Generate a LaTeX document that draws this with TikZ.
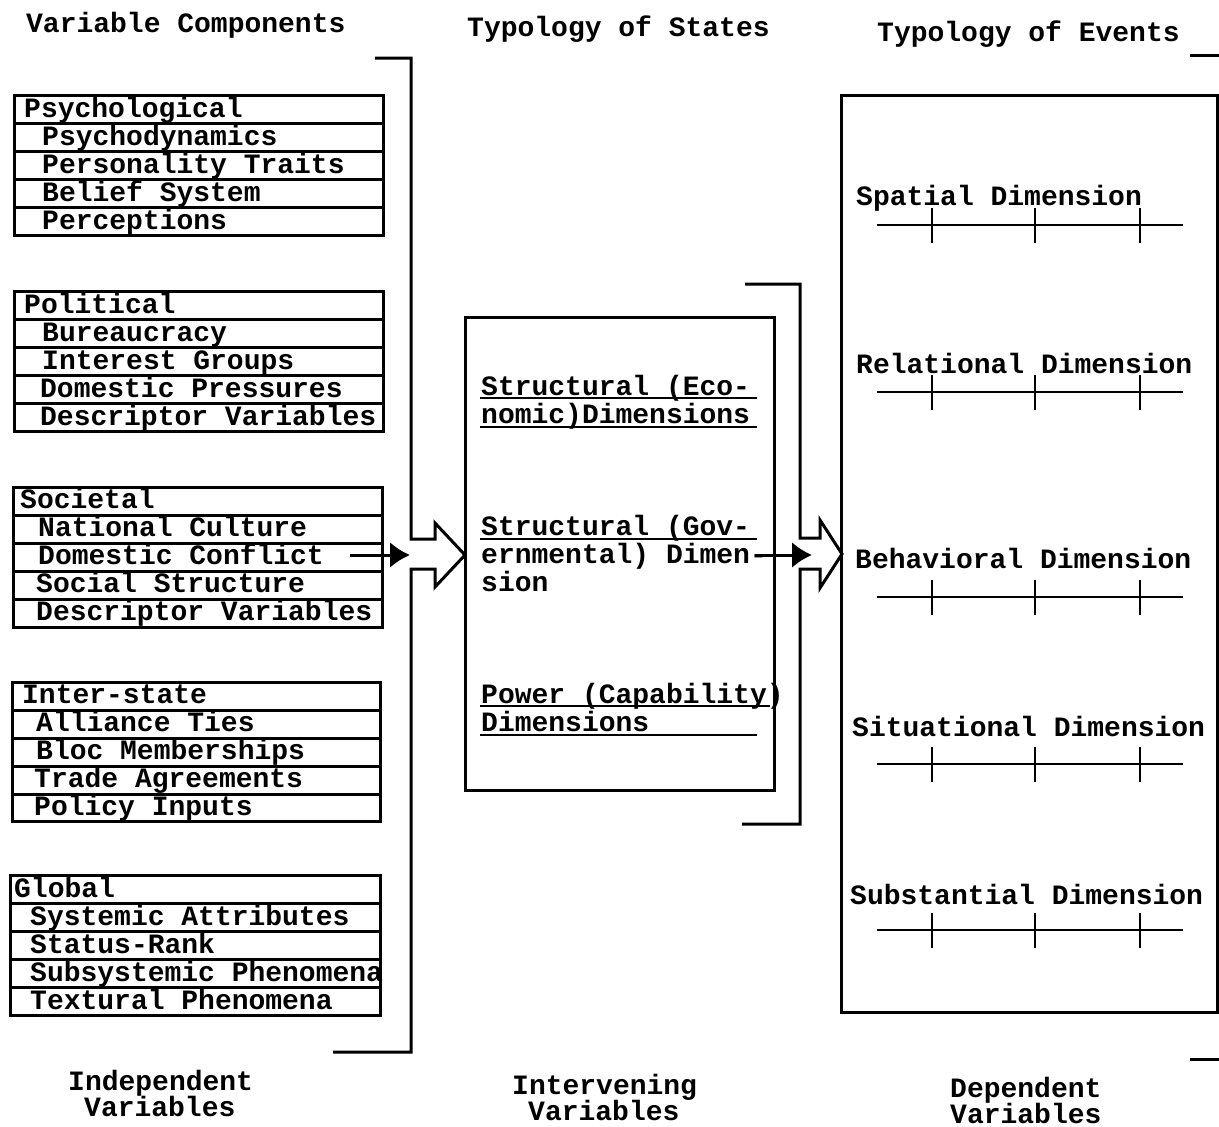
\documentclass[tikz,border=0pt]{standalone}
\usepackage{fontspec}
\setmonofont{Liberation Mono}
\usetikzlibrary{arrows.meta}
\begin{document}
\begin{tikzpicture}[x=1pt,y=-1pt,
  tw/.style={font=\ttfamily\bfseries\fontsize{28}{30}\selectfont, inner sep=0pt, anchor=base west},
  twb/.style={font=\ttfamily\bfseries\fontsize{28}{30}\selectfont, inner sep=0pt, anchor=base west},
  boxline/.style={line width=3pt},
  uline/.style={line width=2.4pt},
  scaleline/.style={line width=2.6pt},
  solidarr/.style={line width=3pt, -{Latex[length=20pt,width=26pt]}},
  hollow/.style={line width=3pt, line join=miter}
]
\useasboundingbox (0,0) rectangle (1219,1127);

% ---------- headers ----------
\node[tw] (h1) at (26,32) {Variable Components};
\node[tw] (h2) at (467,36) {Typology of States};
\node[tw] (h3) at (877,41) {Typology of Events};

% ---------- left column groups ----------
% group 1
\draw[boxline] (14,95) rectangle (383,235);
\foreach \y in {123,151,179,207} \draw[boxline] (14,\y) -- (383,\y);
\node[twb] (g1t) at (24,117) {Psychological};
\node[twb] (g1a) at (42,145) {Psychodynamics};
\node[twb] (g1b) at (42,173) {Personality Traits};
\node[twb] (g1c) at (42,201) {Belief System};
\node[twb] (g1d) at (42,229) {Perceptions};
% group 2
\draw[boxline] (14,291) rectangle (383,431);
\foreach \y in {319,347,375,403} \draw[boxline] (14,\y) -- (383,\y);
\node[twb] (g2t) at (24,313) {Political};
\node[twb] (g2a) at (42,341) {Bureaucracy};
\node[twb] (g2b) at (42,369) {Interest Groups};
\node[twb] (g2c) at (40,397) {Domestic Pressures};
\node[twb] (g2d) at (40,425) {Descriptor Variables};
% group 3
\draw[boxline] (13,487) rectangle (382,627);
\foreach \y in {515,543,571,599} \draw[boxline] (13,\y) -- (382,\y);
\node[twb] (g3t) at (20,508) {Societal};
\node[twb] (g3a) at (38,536) {National Culture};
\node[twb] (g3b) at (38,564) {Domestic Conflict};
\node[twb] (g3c) at (36,592) {Social Structure};
\node[twb] (g3d) at (36,620) {Descriptor Variables};
% group 4
\draw[boxline] (12,682) rectangle (380,821);
\foreach \y in {710,738,766,794} \draw[boxline] (12,\y) -- (380,\y);
\node[twb] (g4t) at (22,703) {Inter-state};
\node[twb] (g4a) at (36,731) {Alliance Ties};
\node[twb] (g4b) at (36,759) {Bloc Memberships};
\node[twb] (g4c) at (34,787) {Trade Agreements};
\node[twb] (g4d) at (34,815) {Policy Inputs};
% group 5
\draw[boxline] (10,875) rectangle (380,1015);
\foreach \y in {903,931,959,987} \draw[boxline] (10,\y) -- (380,\y);
\node[twb] (g5t) at (14,897) {Global};
\node[twb] (g5a) at (30,925) {Systemic Attributes};
\node[twb] (g5b) at (30,953) {Status-Rank};
\node[twb] (g5c) at (30,981) {Subsystemic Phenomena};
\node[twb] (g5d) at (30,1009) {Textural Phenomena};

% ---------- left bracket with hollow arrow ----------
\draw[hollow] (375,58) -- (411,58) -- (411,539) -- (435,539) -- (435,523)
  -- (465,555) -- (435,587) -- (435,569) -- (411,569) -- (411,1052) -- (333,1052);
\coordinate (lsrc) at (350,555);
\coordinate (ltip) at (410,555);
\draw[solidarr] (lsrc) -- (ltip);

% ---------- middle box ----------
\draw[boxline] (465,317) rectangle (774,790);
\node[twb] (m1a) at (481,395) {Structural (Eco-};
\node[twb] (m1b) at (481,423) {nomic)Dimensions};
\draw[uline] (480,398) -- (757,398);
\draw[uline] (480,427) -- (757,427);
\node[twb] (m2a) at (481,535) {Structural (Gov-};
\node[twb] (m2b) at (481,563) {ernmental) Dimen-};
\node[twb] (m2c) at (481,591) {sion};
\draw[uline] (480,539) -- (757,539);
\node[twb] (m3a) at (481,703) {Power (Capability)};
\node[twb] (m3b) at (481,731) {Dimensions};
\draw[uline] (480,706) -- (770,706);
\draw[uline] (480,735) -- (757,735);

% ---------- right bracket with hollow arrow ----------
\draw[hollow] (745,284) -- (800,284) -- (800,538) -- (820,538) -- (820,520)
  -- (842,554) -- (820,588) -- (820,569) -- (800,569) -- (800,824) -- (742,824);
\coordinate (rsrc) at (755,555);
\coordinate (rtip) at (812,555);
\draw[solidarr] (rsrc) -- (rtip);

% ---------- right box ----------
\draw[boxline] (841,95) rectangle (1217,1012);
\foreach \name/\tx/\ty/\ly/\lab in {
  sp/856/205/225/{Spatial Dimension},
  re/856/373/392/{Relational Dimension},
  be/855/568/597/{Behavioral Dimension},
  si/852/736/764/{Situational Dimension},
  su/850/904/930/{Substantial Dimension}} {
  \node[twb] (\name) at (\tx,\ty) {\lab};
  \draw[scaleline] (877,\ly) -- (1183,\ly);
  \foreach \xx in {932,1035,1140} \draw[scaleline] (\xx,\ly-17) -- (\xx,\ly+18);
}

% small marks at right edge
\draw[boxline] (1190,55) -- (1219,55);
\draw[boxline] (1190,1059) -- (1219,1059);

% ---------- footers ----------
\node[tw] (f1a) at (68,1090) {Independent};
\node[tw] (f1b) at (84,1116) {Variables};
\node[tw] (f2a) at (512,1094) {Intervening};
\node[tw] (f2b) at (528,1120) {Variables};
\node[tw] (f3a) at (950,1097) {Dependent};
\node[tw] (f3b) at (950,1123) {Variables};
\end{tikzpicture}
\end{document}
